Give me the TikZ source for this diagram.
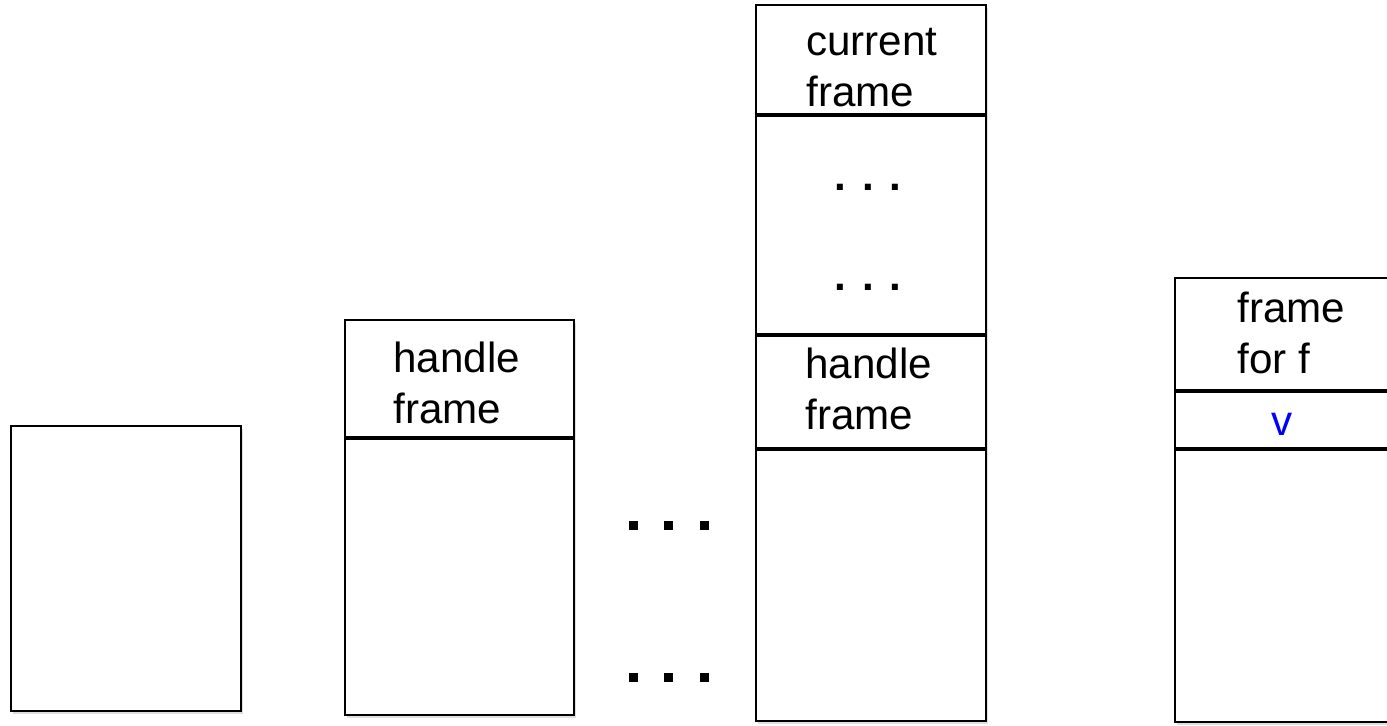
\documentclass[tikz,border=0pt]{standalone}
\usepackage{fontspec}
\setmainfont{Liberation Sans}
\usetikzlibrary{shadows}

\begin{document}
\begin{tikzpicture}[x=0.02cm, y=0.02cm,
    stackbox/.style={draw, line width=1.1pt, fill=white, anchor=south west, inner sep=0pt,
      drop shadow={opacity=0.25, shadow xshift=1pt, shadow yshift=-1.5pt}},
    bar/.style={line width=2.5pt},
    lbl/.style={anchor=north west, inner sep=0pt, align=left, font=\fontsize{24}{29}\selectfont}]
         \clip (0,0) rectangle (1387,725);
         \node [stackbox, minimum width=4.6cm, minimum height=5.7cm] (B1) at (10,13) {};
         \node [stackbox, minimum width=4.58cm, minimum height=7.9cm] (B2) at (344,9) {};
         \node [stackbox, minimum width=4.6cm, minimum height=14.32cm] (B3) at (755,3) {};
         \node [stackbox, minimum width=4.92cm, minimum height=8.88cm] (B4) at (1174,2) {};
         \draw [bar] (B2.west |- 0,287) -- (B2.east |- 0,287);
         \draw [bar] (B3.west |- 0,610) -- (B3.east |- 0,610);
         \draw [bar] (B3.west |- 0,390) -- (B3.east |- 0,390);
         \draw [bar] (B3.west |- 0,276) -- (B3.east |- 0,276);
         \draw [bar] (B4.west |- 0,334) -- (B4.east |- 0,334);
         \draw [bar] (B4.west |- 0,276) -- (B4.east |- 0,276);
         \node [lbl] (H2) at (393,383) {handle\\frame};
         \node [lbl] (CF) at (806,697) {current\\frame};
         \node [lbl] (H3) at (805,377) {handle\\frame};
         \node [lbl] (FF) at (1237,433) {frame\\for f};
         \node [lbl, anchor=base, text=blue] (V) at (1282,290) {v};
         \node [lbl, anchor=base, font=\fontsize{24}{29}\bfseries] (D1) at (868,535) {. . .};
         \node [lbl, anchor=base, font=\fontsize{24}{29}\bfseries] (D2) at (868,435) {. . .};
         \foreach \x in {633,668,704}
           \foreach \y in {200,48}
             \fill (\x-4.5,\y-4.5) rectangle (\x+4.5,\y+4.5);
\end{tikzpicture}
\end{document}
